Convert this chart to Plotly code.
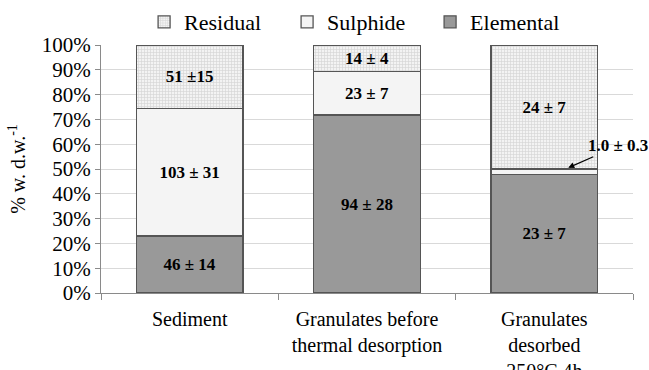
import plotly.graph_objects as go

categories = ["Sediment", "Granulates before<br>thermal desorption", "Granulates<br>desorbed<br>250°C,4h"]
elemental = [46, 94, 23]
sulphide = [103, 23, 1.0]
residual = [51, 14, 24]
elemental_labels = ["46 ± 14", "94 ± 28", "23 ± 7"]
sulphide_labels = ["103 ± 31", "23 ± 7", ""]
residual_labels = ["51 ±15", "14 ± 4", "24 ± 7"]
y_ticks = [0, 10, 20, 30, 40, 50, 60, 70, 80, 90, 100]
y_tick_labels = ["0%", "10%", "20%", "30%", "40%", "50%", "60%", "70%", "80%", "90%", "100%"]

FONT = "Liberation Serif"
edge = dict(color="#555555", width=1.3)
lblfont = dict(family=FONT, size=17, color="black", weight="bold")

fig = go.Figure()
fig.add_trace(go.Bar(
    name="Elemental", x=categories, y=elemental, text=elemental_labels,
    marker=dict(color="#999999", line=edge),
))
fig.add_trace(go.Bar(
    name="Sulphide", x=categories, y=sulphide, text=sulphide_labels,
    marker=dict(color="#f4f4f4", line=edge),
))
fig.add_trace(go.Bar(
    name="Residual", x=categories, y=residual, text=residual_labels,
    marker=dict(color="#e6e6e6", line=edge,
                pattern=dict(shape="+", size=3, solidity=0.35,
                             fgcolor="#b5b5b5", bgcolor="#f3f3f3")),
))
fig.update_traces(textposition="inside", insidetextanchor="middle", textangle=0,
                  textfont=lblfont, constraintext="none", hoverinfo="skip")

fig.add_annotation(
    x=2.135, y=50.5, xref="x", yref="y", text="<b>1.0 ± 0.3</b>",
    font=dict(family=FONT, size=17, color="black"),
    showarrow=True, ax=50, ay=-22, arrowhead=2, arrowsize=1, arrowwidth=1.2,
    arrowcolor="black",
)

fig.update_layout(
    barmode="stack", barnorm="percent", bargap=0.4,
    width=649, height=370,
    margin=dict(l=101, r=16, t=45, b=77, autoexpand=False),
    paper_bgcolor="white", plot_bgcolor="white",
    font=dict(family=FONT, size=20, color="black"),
    legend=dict(orientation="h", x=0.081, xref="paper", y=1 - 22 / 370, yref="container",
                xanchor="left", yanchor="middle",
                traceorder="reversed", font=dict(family=FONT, size=22),
                entrywidth=98, itemwidth=30, bgcolor="rgba(0,0,0,0)"),
    yaxis=dict(range=[0, 100], autorange=False, tickvals=y_ticks, ticktext=y_tick_labels,
               showgrid=True, gridcolor="#d9d9d9", gridwidth=1,
               showline=True, linecolor="#8a8a8a", linewidth=1,
               ticks="outside", ticklen=5, tickcolor="#8a8a8a",
               tickfont=dict(family=FONT, size=21),
               title=dict(text="% w. d.w.<sup>-1</sup>", standoff=10,
                          font=dict(family=FONT, size=20)),
               automargin=False, zeroline=False),
    xaxis=dict(range=[-0.5, 2.5], autorange=False,
               showline=True, linecolor="#8a8a8a", linewidth=1,
               ticks="outside", ticklen=6, tickcolor="#8a8a8a", tickson="boundaries",
               tickfont=dict(family=FONT, size=20), automargin=False,
               ticklabelstandoff=8),
)

fig.write_html("out.html")
